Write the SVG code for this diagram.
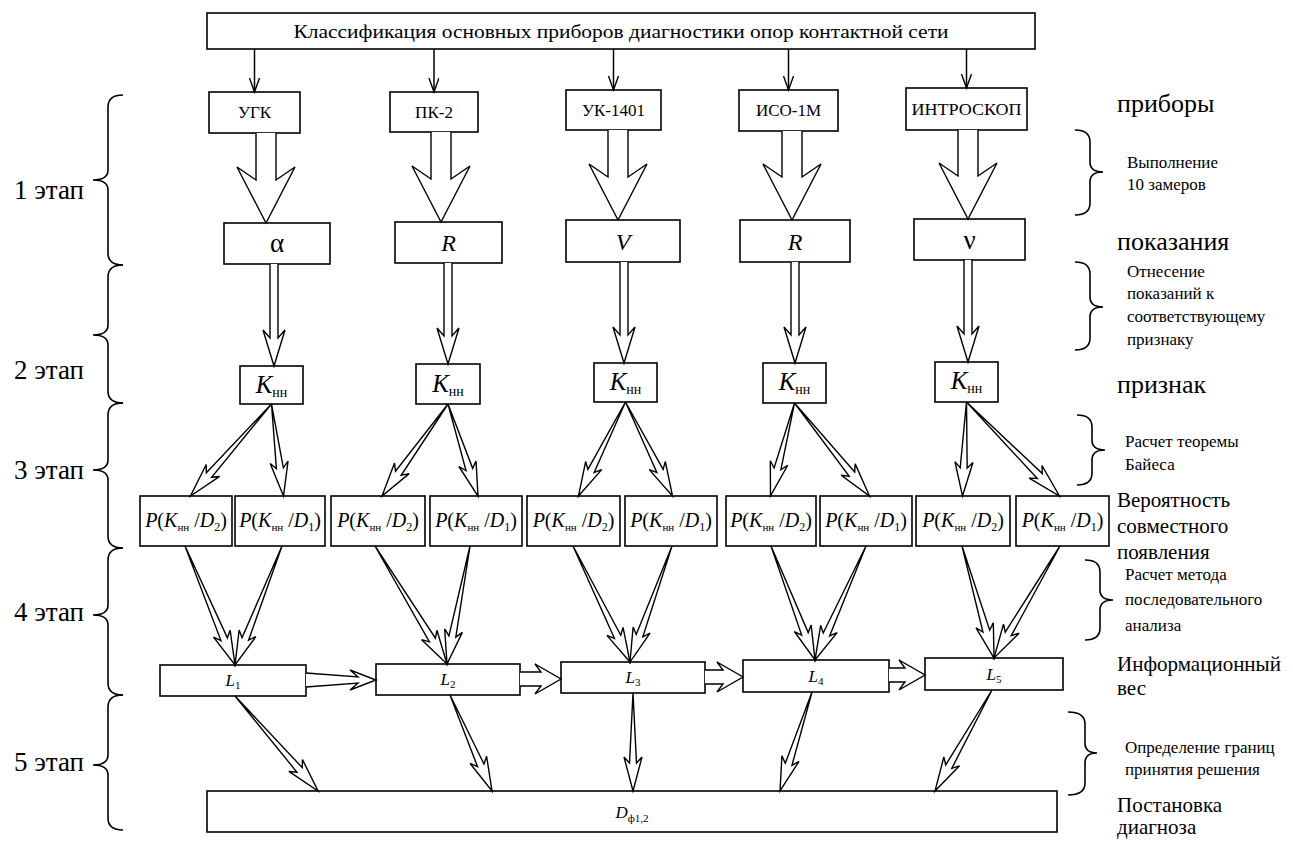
<svg xmlns="http://www.w3.org/2000/svg" width="1293" height="842" viewBox="0 0 1293 842">
<defs>
<style>
.box{fill:#fff;stroke:#000;stroke-width:1.6}
.t{font-family:"Liberation Serif","Times New Roman",serif;fill:#000}
.c{text-anchor:middle}
.i{font-style:italic}
.ar{fill:#fff;stroke:#000;stroke-width:1.4;stroke-linejoin:miter}
.ln{fill:none;stroke:#000;stroke-width:1.5}
.br{fill:none;stroke:#000;stroke-width:1.6}
.big{font-size:26px}
.sm{font-size:17px}
.md{font-size:21px}
.stg{font-size:27px}
</style>
<marker id="v" markerWidth="16" markerHeight="12" refX="14" refY="5" orient="auto" markerUnits="userSpaceOnUse">
<path d="M0,0 L14,5 L0,10" fill="none" stroke="#000" stroke-width="1.4"/>
</marker>
</defs>
<rect width="1293" height="842" fill="#fff"/>

<g id="title">
<rect class="box" x="207" y="13" width="828" height="36"/>
<text class="t c" x="621" y="38" font-size="19" textLength="655" lengthAdjust="spacingAndGlyphs">Классификация основных приборов диагностики опор контактной сети</text>
</g>

<g id="devices">
<g id="dev-ugk"><rect class="box" x="209" y="92" width="91" height="41"/><text class="t c" x="254.5" y="118" font-size="17">УГК</text></g>
<g id="dev-pk2"><rect class="box" x="390" y="92" width="88" height="40"/><text class="t c" x="434" y="118" font-size="17">ПК-2</text></g>
<g id="dev-uk1401"><rect class="box" x="566" y="90" width="95" height="40"/><text class="t c" x="613.5" y="116" font-size="17">УК-1401</text></g>
<g id="dev-iso1m"><rect class="box" x="739" y="90" width="99" height="41"/><text class="t c" x="788.5" y="116" font-size="17">ИСО-1М</text></g>
<g id="dev-introskop"><rect class="box" x="906" y="88" width="121" height="42"/><text class="t c" x="966.5" y="115" font-size="17" textLength="110" lengthAdjust="spacingAndGlyphs">ИНТРОСКОП</text></g>
</g>

<g id="readings">
<g id="rd-alpha"><rect class="box" x="224" y="223" width="106" height="41"/><text class="t c" x="277" y="252" font-size="27">α</text></g>
<g id="rd-r1"><rect class="box" x="395" y="222" width="107" height="41"/><text class="t c i" x="448.5" y="251" font-size="24">R</text></g>
<g id="rd-v"><rect class="box" x="566" y="220" width="114" height="42"/><text class="t c i" x="623" y="250" font-size="24">V</text></g>
<g id="rd-r2"><rect class="box" x="740" y="220" width="110" height="42"/><text class="t c i" x="795" y="250" font-size="24">R</text></g>
<g id="rd-nu"><rect class="box" x="914" y="219" width="111" height="41"/><text class="t c" x="969.5" y="249" font-size="27">ν</text></g>
</g>

<g id="signs">
<g id="k1"><rect class="box" x="240" y="366" width="63" height="38"/><text class="t c" x="271.5" y="393"><tspan class="i" font-size="25">K</tspan><tspan font-size="14" dy="4">нн</tspan></text></g>
<g id="k2"><rect class="box" x="416" y="364" width="64" height="40"/><text class="t c" x="448" y="392"><tspan class="i" font-size="25">K</tspan><tspan font-size="14" dy="4">нн</tspan></text></g>
<g id="k3"><rect class="box" x="594" y="363" width="63" height="39"/><text class="t c" x="625.5" y="390"><tspan class="i" font-size="25">K</tspan><tspan font-size="14" dy="4">нн</tspan></text></g>
<g id="k4"><rect class="box" x="763" y="363" width="63" height="40"/><text class="t c" x="794.5" y="390"><tspan class="i" font-size="25">K</tspan><tspan font-size="14" dy="4">нн</tspan></text></g>
<g id="k5"><rect class="box" x="935" y="362" width="63" height="40"/><text class="t c" x="966.5" y="389"><tspan class="i" font-size="25">K</tspan><tspan font-size="14" dy="4">нн</tspan></text></g>
</g>

<g id="probabilities" class="t" font-size="20">
<g id="p1a"><rect class="box" x="140" y="496" width="92" height="50"/><text class="c" x="186" y="527"><tspan class="i">P</tspan>(<tspan class="i">K</tspan><tspan font-size="11" dy="4">нн</tspan><tspan dy="-4"> /</tspan><tspan class="i">D</tspan><tspan font-size="12" dy="4">2</tspan><tspan dy="-4">)</tspan></text></g>
<g id="p1b"><rect class="box" x="235" y="496" width="90" height="50"/><text class="c" x="280" y="527"><tspan class="i">P</tspan>(<tspan class="i">K</tspan><tspan font-size="11" dy="4">нн</tspan><tspan dy="-4"> /</tspan><tspan class="i">D</tspan><tspan font-size="12" dy="4">1</tspan><tspan dy="-4">)</tspan></text></g>
<g id="p2a"><rect class="box" x="331" y="496" width="94" height="50"/><text class="c" x="378" y="527"><tspan class="i">P</tspan>(<tspan class="i">K</tspan><tspan font-size="11" dy="4">нн</tspan><tspan dy="-4"> /</tspan><tspan class="i">D</tspan><tspan font-size="12" dy="4">2</tspan><tspan dy="-4">)</tspan></text></g>
<g id="p2b"><rect class="box" x="430" y="496" width="92" height="50"/><text class="c" x="476" y="527"><tspan class="i">P</tspan>(<tspan class="i">K</tspan><tspan font-size="11" dy="4">нн</tspan><tspan dy="-4"> /</tspan><tspan class="i">D</tspan><tspan font-size="12" dy="4">1</tspan><tspan dy="-4">)</tspan></text></g>
<g id="p3a"><rect class="box" x="527" y="496" width="93" height="50"/><text class="c" x="573.5" y="527"><tspan class="i">P</tspan>(<tspan class="i">K</tspan><tspan font-size="11" dy="4">нн</tspan><tspan dy="-4"> /</tspan><tspan class="i">D</tspan><tspan font-size="12" dy="4">2</tspan><tspan dy="-4">)</tspan></text></g>
<g id="p3b"><rect class="box" x="625" y="496" width="92" height="50"/><text class="c" x="671" y="527"><tspan class="i">P</tspan>(<tspan class="i">K</tspan><tspan font-size="11" dy="4">нн</tspan><tspan dy="-4"> /</tspan><tspan class="i">D</tspan><tspan font-size="12" dy="4">1</tspan><tspan dy="-4">)</tspan></text></g>
<g id="p4a"><rect class="box" x="726" y="496" width="90" height="50"/><text class="c" x="771" y="527"><tspan class="i">P</tspan>(<tspan class="i">K</tspan><tspan font-size="11" dy="4">нн</tspan><tspan dy="-4"> /</tspan><tspan class="i">D</tspan><tspan font-size="12" dy="4">2</tspan><tspan dy="-4">)</tspan></text></g>
<g id="p4b"><rect class="box" x="820" y="496" width="92" height="50"/><text class="c" x="866" y="527"><tspan class="i">P</tspan>(<tspan class="i">K</tspan><tspan font-size="11" dy="4">нн</tspan><tspan dy="-4"> /</tspan><tspan class="i">D</tspan><tspan font-size="12" dy="4">1</tspan><tspan dy="-4">)</tspan></text></g>
<g id="p5a"><rect class="box" x="916" y="496" width="94" height="50"/><text class="c" x="963" y="527"><tspan class="i">P</tspan>(<tspan class="i">K</tspan><tspan font-size="11" dy="4">нн</tspan><tspan dy="-4"> /</tspan><tspan class="i">D</tspan><tspan font-size="12" dy="4">2</tspan><tspan dy="-4">)</tspan></text></g>
<g id="p5b"><rect class="box" x="1016" y="496" width="93" height="50"/><text class="c" x="1062.5" y="527"><tspan class="i">P</tspan>(<tspan class="i">K</tspan><tspan font-size="11" dy="4">нн</tspan><tspan dy="-4"> /</tspan><tspan class="i">D</tspan><tspan font-size="12" dy="4">1</tspan><tspan dy="-4">)</tspan></text></g>
</g>

<g id="weights" class="t" font-size="17">
<g id="l1"><rect class="box" x="160" y="665" width="146" height="31"/><text class="c" x="233" y="686"><tspan class="i">L</tspan><tspan font-size="11" dy="3">1</tspan></text></g>
<g id="l2"><rect class="box" x="376" y="664" width="144" height="31"/><text class="c" x="448" y="685"><tspan class="i">L</tspan><tspan font-size="11" dy="3">2</tspan></text></g>
<g id="l3"><rect class="box" x="561" y="662" width="144" height="31"/><text class="c" x="633" y="683"><tspan class="i">L</tspan><tspan font-size="11" dy="3">3</tspan></text></g>
<g id="l4"><rect class="box" x="743" y="660" width="146" height="32"/><text class="c" x="816" y="682"><tspan class="i">L</tspan><tspan font-size="11" dy="3">4</tspan></text></g>
<g id="l5"><rect class="box" x="925" y="658" width="138" height="32"/><text class="c" x="994" y="680"><tspan class="i">L</tspan><tspan font-size="11" dy="3">5</tspan></text></g>
</g>

<g id="diagnosis">
<rect class="box" x="207" y="791" width="850" height="41"/>
<text class="t c" x="632" y="818" font-size="17"><tspan class="i">D</tspan><tspan font-size="11" dy="4">ф1,2</tspan></text>
</g>

<g id="connectors">
<g id="title-arrows">
<line class="ln" x1="254.5" y1="49" x2="254.5" y2="92" marker-end="url(#v)"/>
<line class="ln" x1="434" y1="49" x2="434" y2="92" marker-end="url(#v)"/>
<line class="ln" x1="613.5" y1="49" x2="613.5" y2="90" marker-end="url(#v)"/>
<line class="ln" x1="788.5" y1="49" x2="788.5" y2="90" marker-end="url(#v)"/>
<line class="ln" x1="966.5" y1="49" x2="966.5" y2="88" marker-end="url(#v)"/>
</g>
<g id="measure-arrows">
<path class="ar" d="M256,133 L256,180 L237,167 L266,223 L295,167 L276,180 L276,133"/>
<path class="ar" d="M431,132 L431,179 L412,166 L441,222 L470,166 L451,179 L451,132"/>
<path class="ar" d="M608,130 L608,177 L589,164 L618,220 L647,164 L628,177 L628,130"/>
<path class="ar" d="M782,131 L782,177 L763,164 L792,220 L821,164 L802,177 L802,131"/>
<path class="ar" d="M958,130 L958,176 L939,163 L968,219 L997,163 L978,176 L978,130"/>
</g>
<g id="assign-arrows">
<path class="ar" d="M270,264 L270,338 L263,330 L274,366 L285,330 L278,338 L278,264"/>
<path class="ar" d="M444,263 L444,336 L437,328 L448,364 L459,328 L452,336 L452,263"/>
<path class="ar" d="M620,262 L620,335 L613,327 L624,363 L635,327 L628,335 L628,262"/>
<path class="ar" d="M791,262 L791,335 L784,327 L795,363 L806,327 L799,335 L799,262"/>
<path class="ar" d="M964,260 L964,334 L957,326 L968,362 L979,326 L972,334 L972,260"/>
</g>
<g id="bayes-arrows">
<path class="ar" transform="translate(271.5,404) rotate(131.36)" d="M0,0 L94.6,-3.5 L88.6,-9 L122.6,0 L88.6,9 L94.6,3.5 Z"/>
<path class="ar" transform="translate(271.5,404) rotate(82.57)" d="M0,0 L64.8,-3.5 L58.8,-9 L92.8,0 L58.8,9 L64.8,3.5 Z"/>
<path class="ar" transform="translate(448,404) rotate(125.65)" d="M0,0 L85.2,-3.5 L79.2,-9 L113.2,0 L79.2,9 L85.2,3.5 Z"/>
<path class="ar" transform="translate(448,404) rotate(71.94)" d="M0,0 L68.8,-3.5 L62.8,-9 L96.8,0 L62.8,9 L68.8,3.5 Z"/>
<path class="ar" transform="translate(625.5,402) rotate(116.57)" d="M0,0 L77.1,-3.5 L71.1,-9 L105.1,0 L71.1,9 L77.1,3.5 Z"/>
<path class="ar" transform="translate(625.5,402) rotate(63.43)" d="M0,0 L77.1,-3.5 L71.1,-9 L105.1,0 L71.1,9 L77.1,3.5 Z"/>
<path class="ar" transform="translate(794.5,403) rotate(104.47)" d="M0,0 L68,-3.5 L62,-9 L96,0 L62,9 L68,3.5 Z"/>
<path class="ar" transform="translate(794.5,403) rotate(51.11)" d="M0,0 L91.5,-3.5 L85.5,-9 L119.5,0 L85.5,9 L91.5,3.5 Z"/>
<path class="ar" transform="translate(966.5,402) rotate(92.44)" d="M0,0 L66.1,-3.5 L60.1,-9 L94.1,0 L60.1,9 L66.1,3.5 Z"/>
<path class="ar" transform="translate(966.5,402) rotate(45.31)" d="M0,0 L104.2,-3.5 L98.2,-9 L132.2,0 L98.2,9 L104.2,3.5 Z"/>
</g>
<g id="sequential-arrows">
<path class="ar" transform="translate(185,546) rotate(67.21)" d="M0,0 L101.1,-3.5 L95.1,-9 L129.1,0 L95.1,9 L101.1,3.5 Z"/>
<path class="ar" transform="translate(282,546) rotate(111.55)" d="M0,0 L99.9,-3.5 L93.9,-9 L127.9,0 L93.9,9 L99.9,3.5 Z"/>
<path class="ar" transform="translate(375,546) rotate(58.61)" d="M0,0 L110.2,-3.5 L104.2,-9 L138.2,0 L104.2,9 L110.2,3.5 Z"/>
<path class="ar" transform="translate(470,546) rotate(101.03)" d="M0,0 L92.2,-3.5 L86.2,-9 L120.2,0 L86.2,9 L92.2,3.5 Z"/>
<path class="ar" transform="translate(573,546) rotate(63.83)" d="M0,0 L101.2,-3.5 L95.2,-9 L129.2,0 L95.2,9 L101.2,3.5 Z"/>
<path class="ar" transform="translate(672,546) rotate(109.90)" d="M0,0 L95.4,-3.5 L89.4,-9 L123.4,0 L89.4,9 L95.4,3.5 Z"/>
<path class="ar" transform="translate(771,546) rotate(68.89)" d="M0,0 L94.2,-3.5 L88.2,-9 L122.2,0 L88.2,9 L94.2,3.5 Z"/>
<path class="ar" transform="translate(866,546) rotate(114.10)" d="M0,0 L96.9,-3.5 L90.9,-9 L124.9,0 L90.9,9 L96.9,3.5 Z"/>
<path class="ar" transform="translate(962,546) rotate(74.05)" d="M0,0 L88.5,-3.5 L82.5,-9 L116.5,0 L82.5,9 L88.5,3.5 Z"/>
<path class="ar" transform="translate(1060,546) rotate(120.51)" d="M0,0 L102,-3.5 L96,-9 L130,0 L96,9 L102,3.5 Z"/>
</g>
<g id="weight-arrows">
<path class="ar" d="M306,673 L358,677 L350,670 L376,680 L350,690 L358,683 L306,687"/>
<path class="ar" d="M520,672 L541,672 L535,664 L561,679 L535,694 L541,686 L520,686"/>
<path class="ar" d="M705,670 L723,670 L717,662 L743,677 L717,692 L723,684 L705,684"/>
<path class="ar" d="M889,668 L905,668 L899,660 L925,675 L899,690 L905,682 L889,682"/>
</g>
<g id="decision-arrows">
<path class="ar" transform="translate(235,696) rotate(48.85)" d="M0,0 L98.2,-3.5 L92.2,-9 L126.2,0 L92.2,9 L98.2,3.5 Z"/>
<path class="ar" transform="translate(450,695) rotate(66.37)" d="M0,0 L76.8,-3.5 L70.8,-9 L104.8,0 L70.8,9 L76.8,3.5 Z"/>
<path class="ar" transform="translate(633,693) rotate(90)" d="M0,0 L70,-3.5 L64,-9 L98,0 L64,9 L70,3.5 Z"/>
<path class="ar" transform="translate(812,692) rotate(107.91)" d="M0,0 L76,-3.5 L70,-9 L104,0 L70,9 L76,3.5 Z"/>
<path class="ar" transform="translate(992,690) rotate(119.44)" d="M0,0 L88,-3.5 L82,-9 L116,0 L82,9 L88,3.5 Z"/>
</g>
</g>

<g id="stages-left">
<path class="br" d="M123,95 Q108,95 108,107 L108,170 Q108,180 93,180 Q108,180 108,190 L108,253 Q108,265 123,265"/>
<path class="br" d="M123,265 Q108,265 108,277 L108,325 Q108,335 93,335 Q108,335 108,345 L108,391 Q108,403 123,403"/>
<path class="br" d="M123,403 Q108,403 108,415 L108,460 Q108,470 93,470 Q108,470 108,480 L108,536 Q108,548 123,548"/>
<path class="br" d="M123,548 Q108,548 108,560 L108,605 Q108,615 93,615 Q108,615 108,625 L108,683 Q108,695 123,695"/>
<path class="br" d="M123,695 Q108,695 108,707 L108,755 Q108,765 93,765 Q108,765 108,775 L108,818 Q108,830 123,830"/>
<text class="t stg" x="14" y="199">1 этап</text>
<text class="t stg" x="14" y="379">2 этап</text>
<text class="t stg" x="14" y="479">3 этап</text>
<text class="t stg" x="14" y="621">4 этап</text>
<text class="t stg" x="14" y="771">5 этап</text>
</g>

<g id="labels-right">
<path class="br" d="M1075,130 Q1090,130 1090,142 L1090,162 Q1090,172 1103,172 Q1090,172 1090,182 L1090,203 Q1090,215 1075,215"/>
<path class="br" d="M1075,262 Q1090,262 1090,274 L1090,297 Q1090,307 1103,307 Q1090,307 1090,317 L1090,338 Q1090,350 1075,350"/>
<path class="br" d="M1077,415 Q1092,415 1092,427 L1092,440 Q1092,450 1105,450 Q1092,450 1092,460 L1092,473 Q1092,485 1077,485"/>
<path class="br" d="M1085,560 Q1100,560 1100,572 L1100,590 Q1100,600 1113,600 Q1100,600 1100,610 L1100,628 Q1100,640 1085,640"/>
<path class="br" d="M1068,712 Q1085,712 1085,724 L1085,743 Q1085,753 1097,753 Q1085,753 1085,763 L1085,783 Q1085,795 1068,795"/>
<text class="t big" x="1117" y="112">приборы</text>
<text class="t sm" x="1127" y="168">Выполнение</text>
<text class="t sm" x="1127" y="190">10 замеров</text>
<text class="t big" x="1117" y="250">показания</text>
<text class="t sm" x="1127" y="277">Отнесение</text>
<text class="t sm" x="1127" y="299">показаний к</text>
<text class="t sm" x="1127" y="322">соответствующему</text>
<text class="t sm" x="1127" y="345">признаку</text>
<text class="t big" x="1117" y="393">признак</text>
<text class="t sm" x="1125" y="447">Расчет теоремы</text>
<text class="t sm" x="1125" y="470">Байеса</text>
<text class="t md" x="1117" y="507">Вероятность</text>
<text class="t md" x="1117" y="533">совместного</text>
<text class="t md" x="1117" y="559">появления</text>
<text class="t sm" x="1125" y="580">Расчет метода</text>
<text class="t sm" x="1125" y="605">последовательного</text>
<text class="t sm" x="1125" y="631">анализа</text>
<text class="t md" x="1117" y="671">Информационный</text>
<text class="t md" x="1117" y="695">вес</text>
<text class="t sm" x="1125" y="753">Определение границ</text>
<text class="t sm" x="1125" y="775">принятия решения</text>
<text class="t md" x="1117" y="812">Постановка</text>
<text class="t md" x="1117" y="834">диагноза</text>
</g>
</svg>
